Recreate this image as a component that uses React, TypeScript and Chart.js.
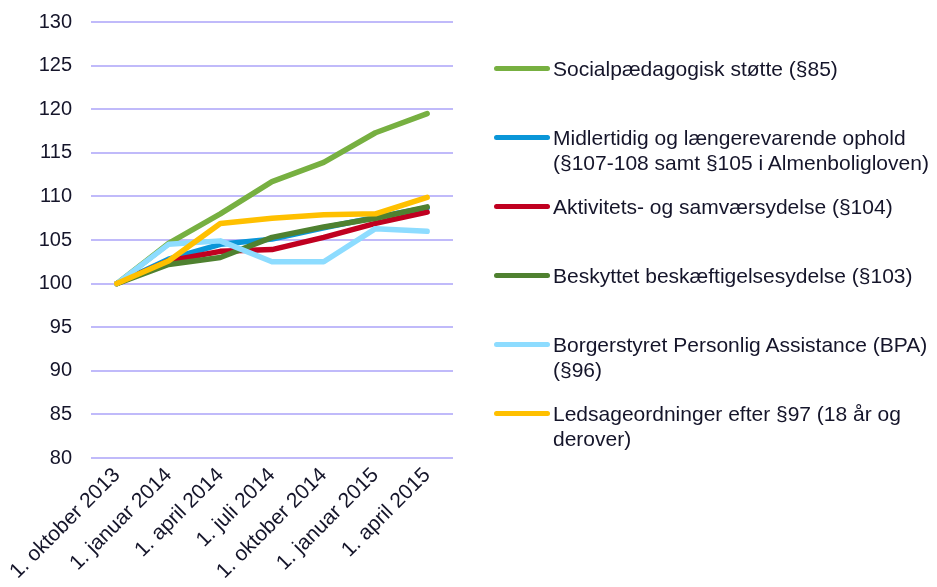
import React, { useEffect, useRef } from "react";
import { Chart, registerables } from "chart.js";

Chart.register(...registerables);

const categories = [
  "1. oktober 2013",
  "1. januar 2014",
  "1. april 2014",
  "1. juli 2014",
  "1. oktober 2014",
  "1. januar 2015",
  "1. april 2015",
];

const socialpaedagogisk = [100, 104.6, 108.0, 111.7, 113.9, 117.3, 119.5];
const midlertidig = [100, 102.8, 104.5, 105.1, 106.4, 107.6, 108.7];
const aktivitets = [100, 102.6, 103.7, 103.9, 105.3, 106.9, 108.2];
const beskyttet = [100, 102.2, 103.0, 105.3, 106.5, 107.5, 108.8];
const bpa = [100, 104.5, 104.9, 102.5, 102.5, 106.3, 106.0];
const ledsage = [100, 102.6, 106.9, 107.5, 107.9, 108.0, 109.9];

const seriesNames = [
  "Socialpædagogisk støtte (§85)",
  "Midlertidig og længerevarende ophold\n(§107-108 samt §105 i Almenboligloven)",
  "Aktivitets- og samværsydelse (§104)",
  "Beskyttet beskæftigelsesydelse (§103)",
  "Borgerstyret Personlig Assistance (BPA)\n(§96)",
  "Ledsageordninger efter §97 (18 år og\nderover)",
];
const seriesValues = [socialpaedagogisk, midlertidig, aktivitets, beskyttet, bpa, ledsage];
const seriesColors = ["#77B041", "#0A96D8", "#C00020", "#4F8130", "#8DDCFF", "#FFC000"];

const yMin = 80;
const yMax = 130;
const yStep = 5;

const FONT = "'Liberation Sans', Arial, sans-serif";
const TEXT = "#15152a";

export default function App() {
  const ref = useRef<HTMLCanvasElement | null>(null);

  useEffect(() => {
    document.body.style.margin = "0";
    const ctx = ref.current!;
    const n = seriesNames.length;
    const chart = new Chart(ctx, {
      type: "line",
      data: {
        labels: categories,
        datasets: seriesValues.map((vals, i) => ({
          label: seriesNames[i],
          data: vals,
          borderColor: seriesColors[i],
          backgroundColor: seriesColors[i],
          borderWidth: 5.5,
          borderCapStyle: "round" as const,
          borderJoinStyle: "round" as const,
          pointRadius: 0,
          tension: 0,
          order: n - 1 - i,
        })),
      },
      options: {
        animation: false,
        responsive: false,
        layout: { padding: { left: 0, right: 484, top: 12, bottom: 0 } },
        plugins: { legend: { display: false }, tooltip: { enabled: false } },
        scales: {
          x: {
            offset: true,
            grid: { display: false, drawTicks: false },
            border: { display: false },
            ticks: {
              maxRotation: 45,
              minRotation: 45,
              padding: 5,
              color: TEXT,
              font: { family: FONT, size: 21 },
              autoSkip: false,
            },
            afterFit: (s: any) => {
              s.height = 129;
            },
          },
          y: {
            min: yMin,
            max: yMax,
            grid: { color: "#C0BAFA", lineWidth: 2, drawTicks: false },
            border: { display: false },
            ticks: {
              stepSize: yStep,
              padding: 19,
              color: TEXT,
              font: { family: FONT, size: 20 },
            },
            afterFit: (s: any) => {
              s.width = 91;
            },
          },
        },
      },
    });
    return () => chart.destroy();
  }, []);

  return (
    <div style={{ position: "fixed", left: 0, top: 0, width: 937, height: 587, background: "#fff", overflow: "hidden" }}>
      <canvas ref={ref} width={937} height={596} style={{ position: "absolute", left: 0, top: -9 }} />
      {seriesNames.map((name, i) => (
        <div
          key={i}
          style={{
            position: "absolute",
            left: 494,
            top: 55.5 + 69 * i,
            display: "flex",
            alignItems: "flex-start",
            fontFamily: FONT,
            fontSize: 21,
            lineHeight: "25px",
            color: TEXT,
          }}
        >
          <div
            style={{
              width: 56,
              height: 5,
              borderRadius: 3,
              background: seriesColors[i],
              marginTop: 10,
              marginRight: 3,
              flex: "none",
            }}
          />
          <div style={{ whiteSpace: "pre" }}>{name}</div>
        </div>
      ))}
    </div>
  );
}
